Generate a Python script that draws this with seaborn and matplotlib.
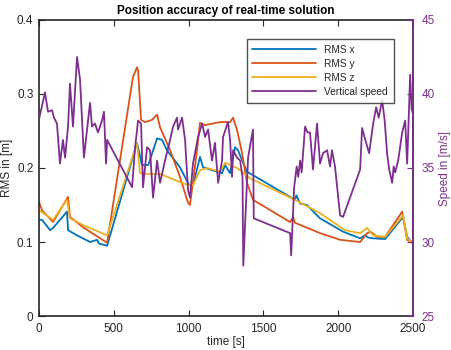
import matplotlib
matplotlib.use("Agg")
import matplotlib.pyplot as plt
import seaborn as sns
import pandas as pd

# RMS series (time [s], value [m])
t_x = [0, 20, 74, 94, 140, 187, 194, 254, 341, 388, 400, 455, 655, 688, 730, 789, 822, 855,
       942, 1003, 1030, 1076, 1096, 1190, 1223, 1243, 1277, 1310, 1330, 1364, 1390, 1711, 1720,
       1745, 1790, 1878, 2032, 2146, 2179, 2200, 2233, 2313, 2433, 2460, 2493, 2500]
rms_x = [0.130, 0.130, 0.116, 0.119, 0.130, 0.141, 0.116, 0.109, 0.100, 0.103, 0.098, 0.095,
         0.234, 0.204, 0.204, 0.240, 0.238, 0.224, 0.201, 0.177, 0.177, 0.215, 0.201, 0.195,
         0.193, 0.204, 0.193, 0.228, 0.224, 0.207, 0.195, 0.157, 0.163, 0.152, 0.150, 0.132,
         0.114, 0.105, 0.109, 0.106, 0.105, 0.104, 0.134, 0.107, 0.099, 0.098]

t_y = [0, 20, 94, 194, 207, 294, 455, 628, 655, 662, 682, 709, 755, 789, 809, 876, 942, 996,
       1009, 1056, 1076, 1110, 1210, 1277, 1297, 1324, 1357, 1390, 1430, 1678, 1698, 1711,
       1878, 2012, 2146, 2193, 2215, 2260, 2313, 2427, 2460, 2493, 2500]
rms_y = [0.154, 0.143, 0.127, 0.161, 0.134, 0.120, 0.099, 0.323, 0.336, 0.332, 0.265, 0.262,
         0.265, 0.272, 0.255, 0.224, 0.188, 0.153, 0.150, 0.224, 0.261, 0.258, 0.262, 0.262,
         0.268, 0.251, 0.220, 0.180, 0.157, 0.127, 0.134, 0.126, 0.112, 0.103, 0.100, 0.112,
         0.114, 0.107, 0.107, 0.141, 0.103, 0.099, 0.098]

t_z = [0, 94, 187, 207, 294, 455, 655, 675, 722, 809, 942, 996, 1030, 1076, 1123, 1210, 1243,
       1324, 1410, 1711, 1878, 2045, 2146, 2193, 2233, 2313, 2433, 2460, 2493, 2500]
rms_z = [0.143, 0.130, 0.157, 0.132, 0.123, 0.109, 0.234, 0.193, 0.192, 0.192, 0.181, 0.177,
         0.177, 0.197, 0.200, 0.195, 0.207, 0.200, 0.186, 0.157, 0.139, 0.116, 0.112, 0.119,
         0.109, 0.107, 0.136, 0.105, 0.099, 0.098]

# vertical speed (time [s], speed [m/s])
t_v = [0, 40, 60, 87, 100, 120, 140, 160, 174, 194, 207, 227, 254, 274, 300, 341, 354, 374,
       394, 421, 434, 448, 455, 622, 642, 662, 682, 695, 722, 742, 762, 789, 809, 842, 876,
       896, 922, 929, 956, 976, 996, 1009, 1029, 1063, 1090, 1110, 1130, 1156, 1176, 1197,
       1223, 1230, 1263, 1277, 1290, 1297, 1324, 1344, 1360, 1365, 1397, 1430, 1435, 1678,
       1685, 1705, 1722, 1732, 1745, 1755, 1778, 1795, 1811, 1831, 1858, 1878, 1898, 1925,
       1945, 1958, 1978, 2012, 2032, 2146, 2159, 2175, 2206, 2233, 2253, 2270, 2293, 2310,
       2326, 2340, 2360, 2370, 2380, 2400, 2427, 2447, 2460, 2468, 2480, 2490, 2500]
speed = [38.3, 40.1, 38.8, 38.9, 38.4, 38.0, 35.3, 36.9, 35.7, 37.8, 40.7, 37.8, 42.5, 41.0,
         35.7, 39.4, 37.8, 38.0, 37.4, 38.2, 38.8, 35.3, 36.9, 33.7, 36.4, 38.2, 38.0, 33.7,
         36.4, 36.2, 33.0, 35.5, 34.0, 35.5, 36.9, 37.8, 38.4, 37.6, 38.4, 36.9, 33.5, 33.0,
         35.3, 37.1, 38.0, 37.1, 37.6, 35.5, 36.7, 34.0, 35.5, 37.1, 38.1, 36.9, 34.4, 36.2,
         35.7, 35.5, 34.4, 28.4, 35.7, 37.6, 31.6, 30.6, 29.1, 33.7, 35.1, 34.4, 35.5, 34.7,
         37.8, 37.4, 37.4, 34.9, 38.0, 35.3, 36.0, 36.2, 35.1, 36.2, 35.1, 31.8, 31.7, 34.9,
         37.7, 37.1, 36.0, 38.0, 39.1, 38.4, 39.6, 38.2, 36.0, 34.9, 34.0, 35.1, 34.7, 35.5,
         37.4, 38.2, 35.3, 37.6, 41.3, 39.0, 38.6]

c_x, c_y, c_z, c_v = "#0072BD", "#D95319", "#EDB120", "#7E2F8E"

sns.set_theme(style="white")
plt.rcParams["font.family"] = ["Liberation Sans", "DejaVu Sans"]
plt.rcParams["font.size"] = 8.5

fig = plt.figure(figsize=(4.51, 3.5), dpi=100)
ax = fig.add_axes([0.0865, 0.097, 0.8295, 0.846])
ax2 = ax.twinx()

df_x = pd.DataFrame({"t": t_x, "v": rms_x})
df_y = pd.DataFrame({"t": t_y, "v": rms_y})
df_z = pd.DataFrame({"t": t_z, "v": rms_z})
df_v = pd.DataFrame({"t": t_v, "v": speed})

sns.lineplot(data=df_x, x="t", y="v", ax=ax, color=c_x, lw=1.3, label="RMS x", legend=False)
sns.lineplot(data=df_y, x="t", y="v", ax=ax, color=c_y, lw=1.3, label="RMS y", legend=False)
sns.lineplot(data=df_z, x="t", y="v", ax=ax, color=c_z, lw=1.3, label="RMS z", legend=False)
sns.lineplot(data=df_v, x="t", y="v", ax=ax2, color=c_v, lw=1.3, label="Vertical speed",
             legend=False)

ax.set_xlim(0, 2500)
ax.set_ylim(0, 0.4)
ax.set_xticks([0, 500, 1000, 1500, 2000, 2500])
ax.set_yticks([0, 0.1, 0.2, 0.3, 0.4])
ax.set_yticklabels(["0", "0.1", "0.2", "0.3", "0.4"])
ax2.set_ylim(25, 45)
ax2.set_yticks([25, 30, 35, 40, 45])

txt = "#262626"
ax.tick_params(axis="x", direction="in", length=4, width=0.8, colors=txt,
               labelsize=8.5, top=True, bottom=True, pad=5)
ax.tick_params(axis="y", direction="in", length=4, width=0.8, colors=txt,
               labelsize=8.5, left=True, right=False, pad=4)
ax2.tick_params(axis="y", direction="in", length=4, width=0.8, colors=c_v,
                labelsize=8.5, pad=6)

for s in ["left", "bottom", "top"]:
    ax.spines[s].set_color(txt)
    ax.spines[s].set_linewidth(1.2)
ax2.spines["right"].set_color(c_v)
ax2.spines["right"].set_linewidth(1.2)
for s in ["left", "bottom", "top"]:
    ax2.spines[s].set_visible(False)

ax.set_xlabel("time [s]", color=txt, fontsize=8.5, labelpad=1)
ax.set_ylabel("RMS in [m]", color=txt, fontsize=8.5, labelpad=3)
ax2.set_ylabel("Speed in [m/s]", color=c_v, fontsize=8.5, labelpad=3)
ax.set_title("Position accuracy of real-time solution", fontsize=8.5, fontweight="bold",
             color="black", pad=4)

h1, l1 = ax.get_legend_handles_labels()
h2, l2 = ax2.get_legend_handles_labels()
leg = ax2.legend(h1 + h2, l1 + l2, loc="upper right", bbox_to_anchor=(0.948, 0.935),
                 fontsize=7.3, frameon=True, fancybox=False, handlelength=6.3,
                 borderpad=0.55, labelspacing=0.4, borderaxespad=0)
leg.get_frame().set_edgecolor("#262626")
leg.get_frame().set_linewidth(1.0)

fig.savefig("out.png", dpi=100)
